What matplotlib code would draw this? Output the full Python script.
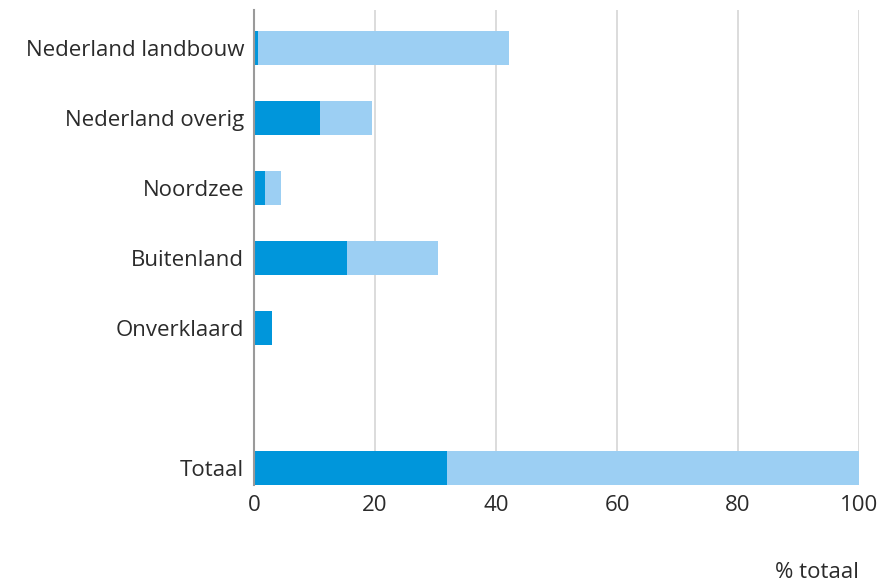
import matplotlib.pyplot as plt
import numpy as np

plt.rcParams['font.family'] = ['Open Sans', 'DejaVu Sans']

# bronnen en hun aandeel (% van totaal)
categories = ['Nederland landbouw', 'Nederland overig', 'Noordzee',
              'Buitenland', 'Onverklaard', 'Totaal']
deel_donker = [0.7, 10.9, 1.8, 15.3, 3.0, 31.9]
deel_licht = [41.4, 8.6, 2.6, 15.1, 0.0, 68.1]
positions = [0, 1, 2, 3, 4, 6]
xticks = [0, 20, 40, 60, 80, 100]

dark = '#0096db'
light = '#9ccff3'
text_col = '#2b2b2b'

fig = plt.figure(figsize=(8.84, 5.87), dpi=100)
ax = fig.add_axes([254 / 884, 1 - 485 / 587, (859 - 254) / 884, 475 / 587])

ax.barh(positions, deel_donker, height=0.48, color=dark, zorder=3)
ax.barh(positions, deel_licht, left=deel_donker, height=0.48, color=light, zorder=3)

ax.set_xlim(0, 100)
ax.set_ylim(6.24, -0.54)
ax.set_yticks(positions)
ax.set_yticklabels(categories)
ax.set_xticks(xticks)
ax.set_xticklabels([str(t) for t in xticks])

ax.tick_params(axis='both', length=0, labelsize=16, colors=text_col)
ax.tick_params(axis='y', pad=7)
ax.tick_params(axis='x', pad=7)

ax.grid(axis='x', color='#d6d6d6', linewidth=1.2, zorder=0)
for side in ['top', 'right', 'bottom']:
    ax.spines[side].set_visible(False)
ax.spines['left'].set_color('#9a9a9a')
ax.spines['left'].set_linewidth(1.5)
ax.spines['left'].set_zorder(4)

fig.text(859 / 884, 1 - 573 / 587, '% totaal', ha='right', va='center',
         fontsize=16, color=text_col)

fig.savefig('out.png', dpi=100)
